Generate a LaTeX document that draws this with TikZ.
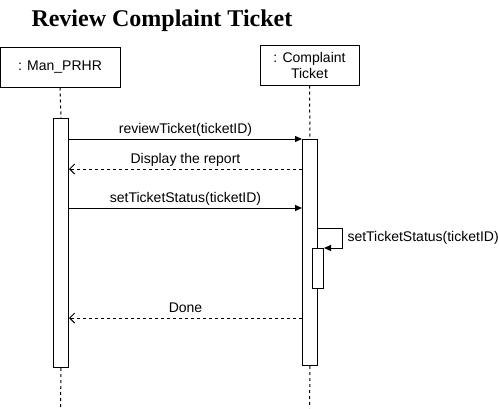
\documentclass[tikz,border=0pt]{standalone}
\usepackage{fontspec}
\setmainfont{Liberation Sans}
\newfontfamily\titlefont{Liberation Serif}
\usetikzlibrary{arrows.meta}

\begin{document}
\begin{tikzpicture}[x=1pt,y=-1pt,line width=1pt,
  font=\fontsize{14}{16}\selectfont,
  obj/.style={draw=black,fill=white,inner sep=0pt,minimum height=40pt,align=center},
  act/.style={draw=black,fill=white,inner sep=0pt,anchor=north west},
  life/.style={dash pattern=on 3pt off 3pt},
  call/.style={-{Triangle[length=7pt,width=6pt]}},
  reply/.style={dash pattern=on 3pt off 3pt,-{Straight Barb[length=5pt,width=10pt]}},
  msglabel/.style={midway,anchor=base,inner sep=0pt,yshift=5.5pt}]

      \useasboundingbox (0,0) rectangle (499,408);

      % title
      \node [anchor=base west, inner sep=0pt,
      font=\titlefont\bfseries\fontsize{24}{28}\selectfont] (title) at (31,26)
      {Review Complaint Ticket};

      % objects
      \node [obj, minimum width=120pt] (man) at (60,67) {: Man\_PRHR};
      \node [obj, minimum width=99pt] (ticket) at (309.5,65) {: Complaint\\Ticket};

      % activations
      \node [act, minimum width=15pt, minimum height=249pt] (manact) at (53,118) {};
      \node [act, minimum width=15pt, minimum height=226pt] (ticketact) at (302,139) {};
      \node [act, minimum width=11pt, minimum height=40pt] (selfact) at (312,248) {};

      % lifelines
      \coordinate (manend) at (60.5,408);
      \coordinate (ticketend) at (309.5,408);
      \draw [life] (man.south) -- (manact.north);
      \draw [life] (ticket.south) -- (ticketact.north);
      \draw [life] (manact.south) -- (manend);
      \draw [life] (ticketact.south) -- (ticketend);

      % messages
      \coordinate (m1) at (0,139);
      \coordinate (m2) at (0,169);
      \coordinate (m3) at (0,208);
      \coordinate (m4) at (0,318);
      \draw [call] (manact.east |- m1) -- (ticketact.west |- m1)
      node [msglabel] {reviewTicket(ticketID)};
      \draw [reply] (ticketact.west |- m2) -- (manact.east |- m2)
      node [msglabel] {Display the report};
      \draw [call] (manact.east |- m3) -- (ticketact.west |- m3)
      node [msglabel] {setTicketStatus(ticketID)};
      \draw [reply] (ticketact.west |- m4) -- (manact.east |- m4)
      node [msglabel] {Done};

      % self call
      \coordinate (s1) at (342,228);
      \coordinate (s2) at (342,248);
      \draw [call] (ticketact.east |- s1) -- (s1) -- (s2) -- (selfact.north east);
      \node [anchor=base west, inner sep=0pt] (selflabel) at (347,241)
      {setTicketStatus(ticketID)};

\end{tikzpicture}
\end{document}
